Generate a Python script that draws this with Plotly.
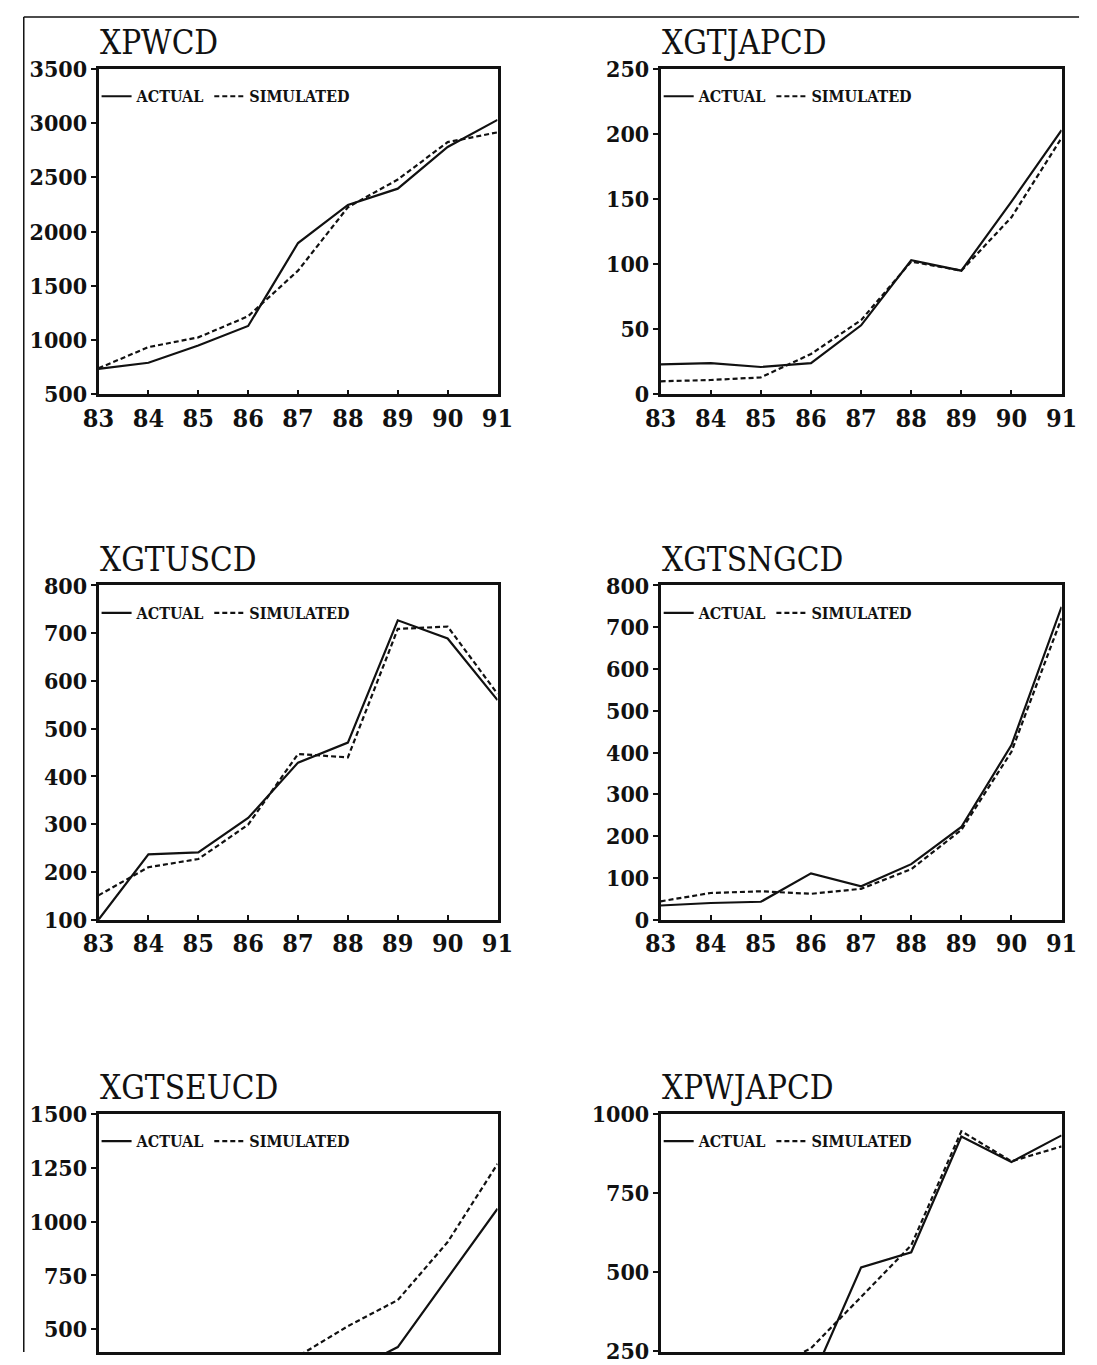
import plotly.graph_objects as go

# Years on the horizontal axis
YEARS = [83, 84, 85, 86, 87, 88, 89, 90, 91]
YEAR_LABELS = ["83", "84", "85", "86", "87", "88", "89", "90", "91"]

# Actual vs simulated series
XPWCD_ACTUAL = [734, 791, 950, 1130, 1895, 2246, 2396, 2780, 3030]
XPWCD_SIM = [740, 935, 1025, 1220, 1640, 2225, 2480, 2825, 2915]

XGTJAPCD_ACTUAL = [23, 24, 21, 24, 53, 103, 95, 148, 203]
XGTJAPCD_SIM = [10, 11, 13, 31, 57, 102, 95, 136, 197]

XGTUSCD_ACTUAL = [100, 237, 241, 313, 429, 471, 727, 689, 560]
XGTUSCD_SIM = [151, 210, 227, 299, 447, 440, 709, 714, 573]

XGTSNGCD_ACTUAL = [34, 40, 43, 111, 80, 133, 222, 418, 749]
XGTSNGCD_SIM = [44, 64, 68, 62, 74, 121, 215, 402, 722]

XGTSEUCD_ACTUAL = [150, 170, 195, 225, 260, 300, 418, 741, 1060]
XGTSEUCD_SIM = [165, 195, 235, 290, 375, 515, 636, 905, 1268]

XPWJAPCD_ACTUAL = [90, 105, 125, 155, 515, 563, 928, 848, 932]
XPWJAPCD_SIM = [100, 130, 180, 260, 422, 585, 945, 850, 897]

TITLES = ["XPWCD", "XGTJAPCD", "XGTUSCD", "XGTSNGCD", "XGTSEUCD", "XPWJAPCD"]
ACTUALS = [XPWCD_ACTUAL, XGTJAPCD_ACTUAL, XGTUSCD_ACTUAL,
           XGTSNGCD_ACTUAL, XGTSEUCD_ACTUAL, XPWJAPCD_ACTUAL]
SIMS = [XPWCD_SIM, XGTJAPCD_SIM, XGTUSCD_SIM,
        XGTSNGCD_SIM, XGTSEUCD_SIM, XPWJAPCD_SIM]

# Axis settings per panel: (y range, tick step)
Y_AXES = [([500, 3500], 500), ([0, 250], 50), ([100, 800], 100),
          ([0, 800], 100), ([395, 1500], 250), ([248, 1000], 250)]

W, H = 1097, 1365
COLS = [(85, 496), (664, 1077)]            # pixel x-extent of each column
ROWS = [(56, 388), (583, 924), (1122, 1365)]  # pixel y-extent of each row

SERIF = "DejaVu Serif Condensed, Liberation Serif, serif"
INK = "#111111"

fig = go.Figure()
layout = dict(
    width=W, height=H,
    margin=dict(l=0, r=0, t=0, b=0),
    paper_bgcolor="white", plot_bgcolor="white",
    annotations=[], shapes=[],
)

for i, title in enumerate(TITLES):
    r, c = divmod(i, 2)
    x0, x1 = COLS[c]
    y0, y1 = ROWS[r]
    n = "" if i == 0 else str(i + 1)
    xa, ya = "xaxis" + n, "yaxis" + n
    lg = "legend" + n
    last_row = (r == 2)

    fig.add_trace(go.Scatter(
        x=YEARS, y=ACTUALS[i], mode="lines", name="ACTUAL",
        line=dict(color=INK, width=2.2),
        xaxis="x" + n, yaxis="y" + n, legend=lg))
    fig.add_trace(go.Scatter(
        x=YEARS, y=SIMS[i], mode="lines", name="SIMULATED",
        line=dict(color=INK, width=2.2, dash="5px,3px"),
        xaxis="x" + n, yaxis="y" + n, legend=lg))

    yr, dt = Y_AXES[i]
    layout[xa] = dict(
        domain=[x0 / W, x1 / W], anchor="y" + n,
        range=[83, 91], tickvals=YEARS, ticktext=YEAR_LABELS,
        showline=True, linecolor=INK, linewidth=2.5, mirror=True,
        ticks="" if last_row else "inside", ticklen=5, tickwidth=1.5,
        tickcolor=INK, ticklabelstandoff=0,
        showticklabels=not last_row, side="top" if last_row else "bottom",
        showgrid=False, zeroline=False,
        tickfont=dict(family=SERIF, size=25, color=INK, weight="bold"),
    )
    layout[ya] = dict(
        domain=[1 - y1 / H, 1 - y0 / H], anchor="x" + n,
        range=yr, dtick=dt, tick0=0,
        showline=True, linecolor=INK, linewidth=2.5, mirror=True,
        ticks="outside", ticklen=5, tickwidth=1.5, tickcolor=INK,
        ticklabelstandoff=-1,
        showgrid=False, zeroline=False,
        tickfont=dict(family=SERIF, size=23, color=INK, weight="bold"),
    )
    layout[lg] = dict(
        x=(x0 - 2) / W, y=1 - (y0 + 28) / H,
        xanchor="left", yanchor="middle",
        orientation="h", bgcolor="rgba(0,0,0,0)", borderwidth=0,
        itemwidth=30,
        font=dict(family=SERIF, size=16, color=INK, weight="bold"),
        tracegroupgap=0,
    )
    layout["annotations"].append(dict(
        text=title, xref="paper", yref="paper",
        x=(x0 - 1) / W, y=1 - (y0 - 5) / H,
        xanchor="left", yanchor="bottom", showarrow=False,
        font=dict(family=SERIF, size=33, color=INK),
    ))

# page frame: top and left edges
layout["shapes"].append(dict(type="line", xref="paper", yref="paper",
                             x0=8 / W, x1=1095 / W, y0=1 - 3 / H, y1=1 - 3 / H,
                             line=dict(color=INK, width=1.5)))
layout["shapes"].append(dict(type="line", xref="paper", yref="paper",
                             x0=8 / W, x1=8 / W, y0=1 - 3 / H, y1=0,
                             line=dict(color=INK, width=1.5)))

fig.update_layout(**layout)

# let the figure fill the page edge to edge
page_js = ("document.body.style.margin='0';"
           "document.body.style.overflow='hidden';"
           "document.documentElement.style.overflow='hidden';")
fig.write_html("out.html", post_script=page_js)
